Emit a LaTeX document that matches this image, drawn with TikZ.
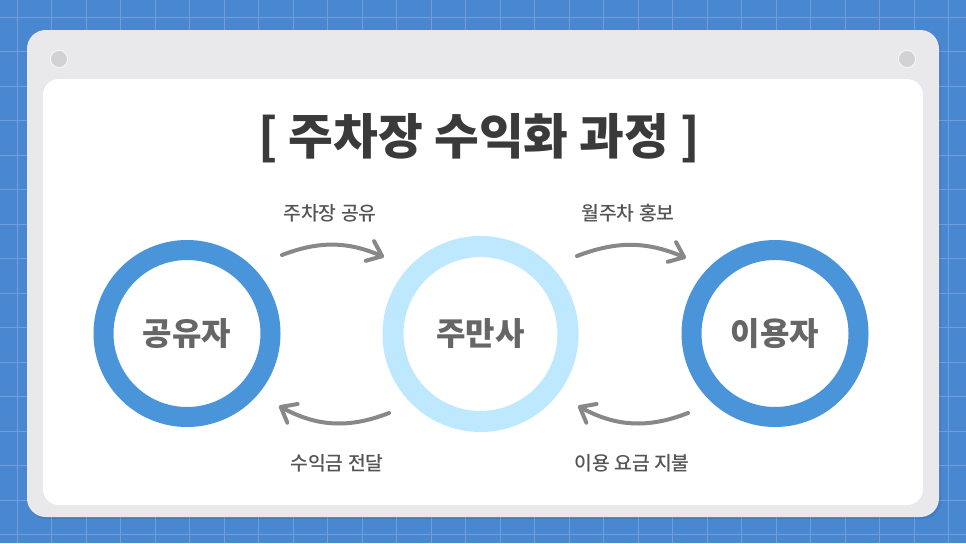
\documentclass[tikz,border=0pt]{standalone}
\usepackage{fontspec}
\setmainfont{Noto Sans CJK KR}
\newfontfamily\medfont{Noto Sans CJK KR Medium}
\usetikzlibrary{arrows.meta}
\definecolor{bgblue}{HTML}{4A87D1}
\definecolor{gridc}{HTML}{6E9FDC}
\definecolor{wingray}{HTML}{E9E9EB}
\definecolor{dotgray}{HTML}{D2D2D4}
\definecolor{titlec}{HTML}{3A3A3A}
\definecolor{ringblue}{HTML}{4A94DA}
\definecolor{ringlight}{HTML}{BDE8FD}
\definecolor{ctext}{HTML}{666666}
\definecolor{ltext}{HTML}{555555}
\definecolor{arrowc}{HTML}{888888}
\tikzset{
  ring/.style={circle, draw=ringblue, line width=15pt, fill=white, inner sep=0pt,
    minimum size=125.25pt, text=ctext, font=\bfseries\fontsize{24}{28}\selectfont},
  lbl/.style={text=ltext, font=\medfont\fontsize{14.5}{17}\selectfont, inner sep=0pt},
  flow/.style={draw=arrowc, line width=3pt, line cap=round,
    -{Straight Barb[length=10pt,width=16pt,line cap=round,line join=round]}}
}
\begin{document}
\begin{tikzpicture}[x=0.75pt,y=-0.75pt]
\useasboundingbox (0,0) rectangle (966,543);
\fill[bgblue] (0,0) rectangle (966,543);
\foreach \i in {0,...,27} { \draw[gridc, line width=0.6pt] (17+34.5*\i,0) -- (17+34.5*\i,543); }
\foreach \j in {0,...,15} { \draw[gridc, line width=0.6pt] (0,17+34.5*\j) -- (966,17+34.5*\j); }
% window
\fill[black, opacity=0.08, rounded corners=14pt] (28,32) rectangle (941,519);
\fill[wingray, rounded corners=14pt] (27,30) rectangle (939,517);
\fill[white, rounded corners=12pt] (43,79) rectangle (923,505);
\node[circle, fill=dotgray, draw=white!80!dotgray, line width=0.8pt, minimum size=13pt, inner sep=0pt] (d1) at (59,59) {};
\node[circle, fill=dotgray, draw=white!80!dotgray, line width=0.8pt, minimum size=13pt, inner sep=0pt] (d2) at (907,59) {};
% title
\node[text=titlec, font=\bfseries\fontsize{36.5}{42}\selectfont, inner sep=0pt] (title) at (479,138) {[ 주차장 수익화 과정 ]};
% rings
\node[ring] (L) at (187,333.5) {공유자};
\node[ring, draw=ringlight, line width=15.75pt, minimum size=131.25pt] (M) at (480.5,334) {주만사};
\node[ring] (R) at (775,333.5) {이용자};
% arrow end points
\coordinate (a1s) at (282,255);
\coordinate (a1e) at (384,257);
\coordinate (a2s) at (577,256);
\coordinate (a2e) at (686,258);
\coordinate (a3s) at (389,413);
\coordinate (a3e) at (279,406);
\coordinate (a4s) at (688,413);
\coordinate (a4e) at (578,406);
\draw[flow] (a1s) to[bend left=22] (a1e);
\draw[flow] (a2s) to[bend left=22] (a2e);
\draw[flow] (a3s) to[bend left=25] (a3e);
\draw[flow] (a4s) to[bend left=25] (a4e);
% labels
\node[lbl] (t1) at (330,213) {주차장 공유};
\node[lbl] (t2) at (628,213) {월주차 홍보};
\node[lbl] (t3) at (337,463) {수익금 전달};
\node[lbl] (t4) at (632,463) {이용 요금 지불};
\end{tikzpicture}
\end{document}
